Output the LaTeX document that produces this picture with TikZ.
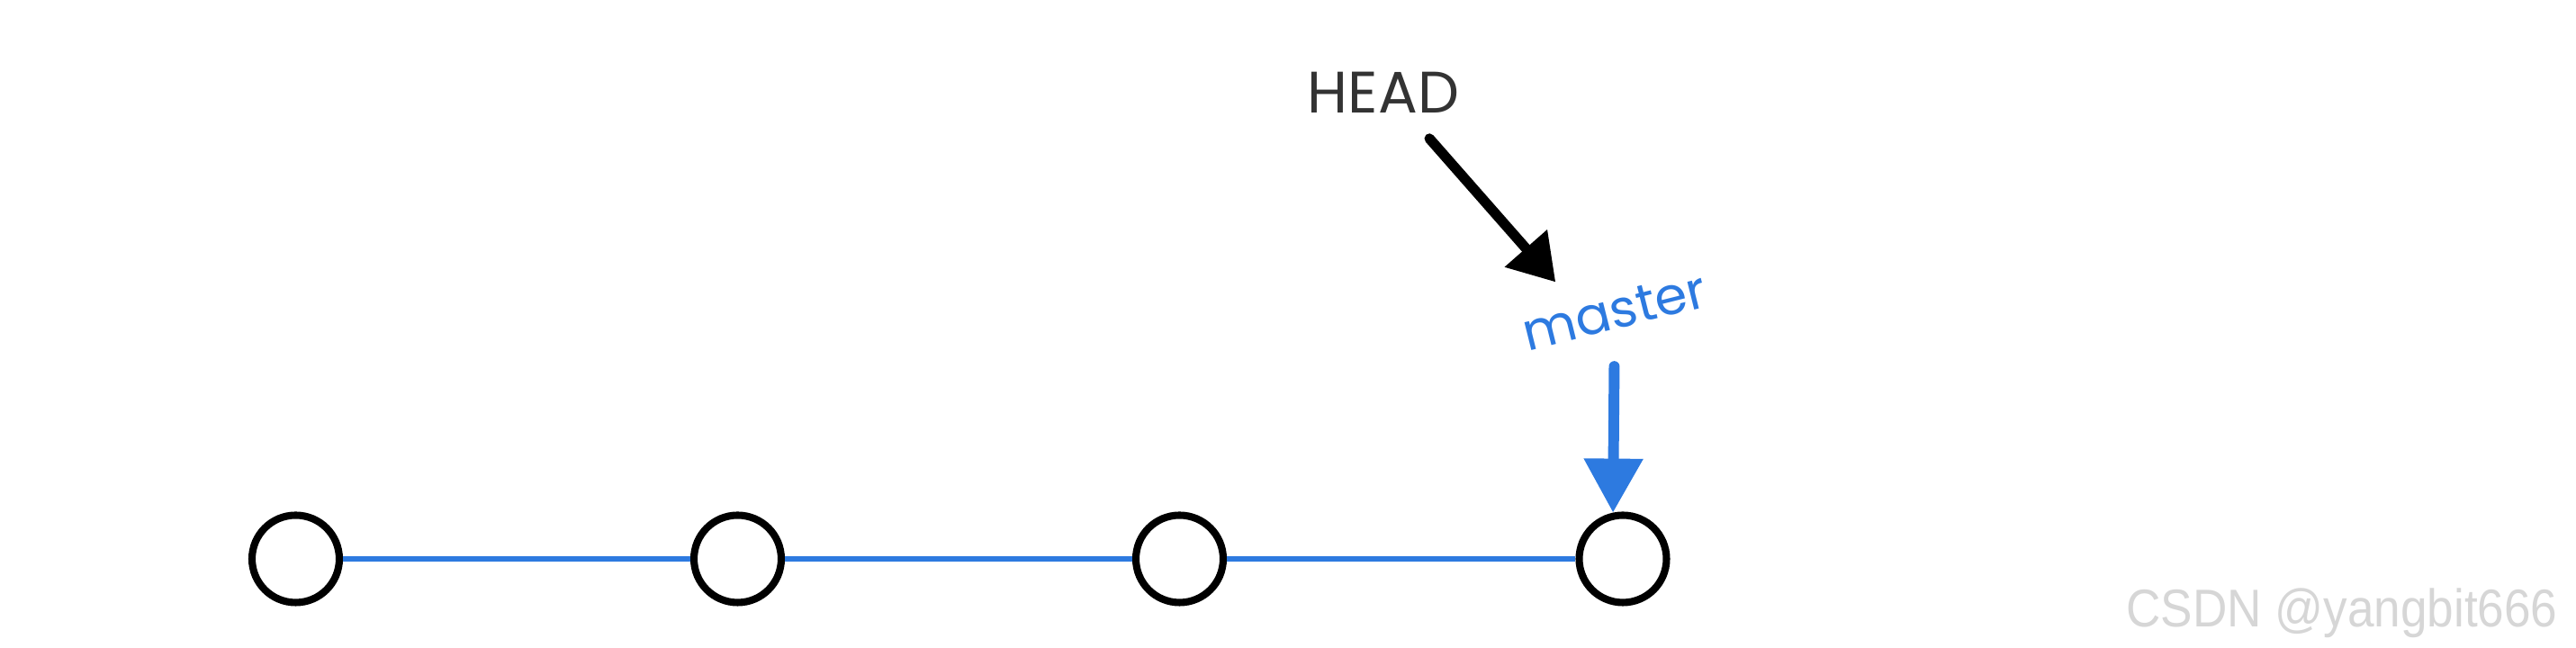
\documentclass[tikz,border=0pt]{standalone}
\usepackage{xcolor,tikz,fontspec}
\setmainfont{Liberation Sans}
\newfontfamily\reffont{Poppins}
\newfontfamily\markfont[FakeStretch=0.9]{Liberation Sans}
\usetikzlibrary{arrows.meta,positioning}
\definecolor{gitblue}{RGB}{45,122,224}
\definecolor{mark}{RGB}{214,214,214}
\tikzset{
  commit/.style={circle,draw=black,line width=2.3pt,fill=white,minimum size=9.7mm,inner sep=0pt},
  hist/.style={draw=gitblue,line width=1.7pt},
  ptr/.style={-{Triangle[length=5mm,width=6mm]},line width=3.2pt,draw=black,line cap=round},
  bptr/.style={-{Triangle[length=6mm,width=6.3mm]},line width=3.4pt,draw=gitblue,line cap=round},
  ref/.style={font=\reffont\fontsize{16.5}{20}\selectfont,inner sep=1pt},
  wm/.style={font=\markfont\fontsize{16.8}{19}\selectfont,text=mark}
}
\begin{document}
\begin{tikzpicture}
  \useasboundingbox (0,0) rectangle (28.62,7.2);
  \foreach \i/\x in {1/3.285,2/8.195,3/13.105,4/18.03}{\node[commit] (c\i) at (\x,.99) {};}
  \foreach \i in {1,2,3}{\pgfmathtruncatemacro{\j}{\i+1}\draw[hist] (c\i) -- (c\j);}
  \node[ref,font=\reffont\fontsize{18.5}{22}\selectfont,text=black!80] (head) at (15.37,6.17) {HEAD};
  \node[ref,text=gitblue,rotate=14] (master) at (17.94,3.74) {master};
  \draw[ptr,shorten <=3.2mm,shorten >=2.6mm] ([xshift=3mm]head.south) -- (master.151);
  \draw[bptr,shorten <=3.6mm] (master) -- (c4.102);
  \node[wm,anchor=base east] (mark) at (28.54,.23) {CSDN @yangbit666};
\end{tikzpicture}
\end{document}
